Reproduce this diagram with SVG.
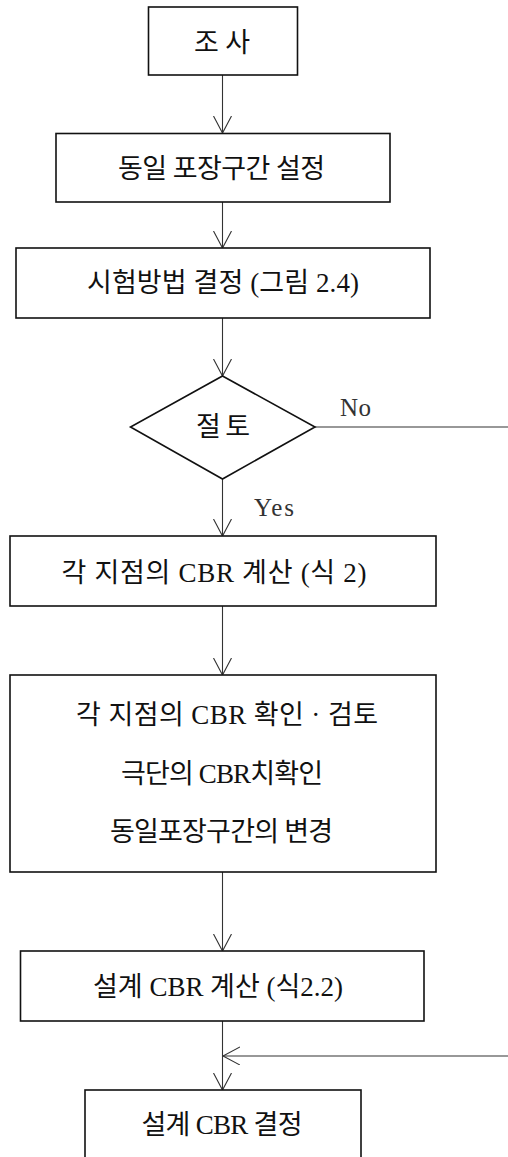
<svg xmlns="http://www.w3.org/2000/svg" width="508" height="1157" viewBox="0 0 508 1157">
<style>
.box{fill:#fff;stroke:#111;stroke-width:1.6}
.t{font-family:"Liberation Serif","Noto Sans CJK KR",serif;font-size:27px;fill:#111;text-anchor:middle}
.lbl{font-family:"Liberation Serif","Noto Sans CJK KR",serif;font-size:25px;fill:#333}
.c{fill:none;stroke:#333;stroke-width:1.1}
</style>
<defs>
<marker id="v" markerWidth="20" markerHeight="20" refX="17" refY="9" orient="auto" markerUnits="userSpaceOnUse">
<path d="M0,0 L17,9 L0,18" fill="none" stroke="#333" stroke-width="1.1"/>
</marker>
</defs>
<rect width="508" height="1157" fill="#fff"/>
<g id="connectors">
<line class="c" x1="222.5" y1="75" x2="222.5" y2="133" marker-end="url(#v)"/>
<line class="c" x1="222.5" y1="202" x2="222.5" y2="248" marker-end="url(#v)"/>
<line class="c" x1="222.5" y1="318" x2="222.5" y2="376" marker-end="url(#v)"/>
<line class="c" x1="315" y1="427" x2="508" y2="427"/>
<line class="c" x1="222.5" y1="479" x2="222.5" y2="536" marker-end="url(#v)"/>
<line class="c" x1="222.5" y1="606" x2="222.5" y2="675" marker-end="url(#v)"/>
<line class="c" x1="222.5" y1="872" x2="222.5" y2="951" marker-end="url(#v)"/>
<line class="c" x1="222.5" y1="1021" x2="222.5" y2="1090" marker-end="url(#v)"/>
<line class="c" x1="508" y1="1056" x2="223" y2="1056" marker-end="url(#v)"/>
<text class="lbl" x="340" y="416" textLength="31">No</text>
<text class="lbl" x="254" y="516" textLength="40">Yes</text>
</g>
<g id="n1"><rect class="box" x="148.5" y="7" width="149" height="68"/><text class="t" x="222" y="52" textLength="56">조 사</text></g>
<g id="n2"><rect class="box" x="56" y="133.5" width="334" height="68.5"/><text class="t" x="221.5" y="178" textLength="207">동일 포장구간 설정</text></g>
<g id="n3"><rect class="box" x="16" y="248" width="414" height="70"/><text class="t" x="223" y="292" textLength="272">시험방법 결정 (그림 2.4)</text></g>
<g id="n4"><polygon class="box" points="222.5,376 315,427 222.5,479 130.5,427"/><text class="t" x="223" y="436" textLength="54">절 토</text></g>
<g id="n5"><rect class="box" x="10" y="536" width="426" height="70"/><text class="t" x="214" y="582" textLength="305">각 지점의 CBR 계산 (식 2)</text></g>
<g id="n6"><rect class="box" x="10" y="675" width="426" height="197"/>
<text class="t" x="227" y="724" textLength="302">각 지점의 CBR 확인 · 검토</text>
<text class="t" x="222" y="783" textLength="202">극단의 CBR치확인</text>
<text class="t" x="221.5" y="841" textLength="223">동일포장구간의 변경</text></g>
<g id="n7"><rect class="box" x="20.5" y="951" width="403.5" height="70"/><text class="t" x="218" y="996" textLength="250">설계 CBR 계산 (식2.2)</text></g>
<g id="n8"><rect class="box" x="85" y="1090" width="276" height="80"/><text class="t" x="222" y="1134" textLength="161">설계 CBR 결정</text></g>
</svg>
